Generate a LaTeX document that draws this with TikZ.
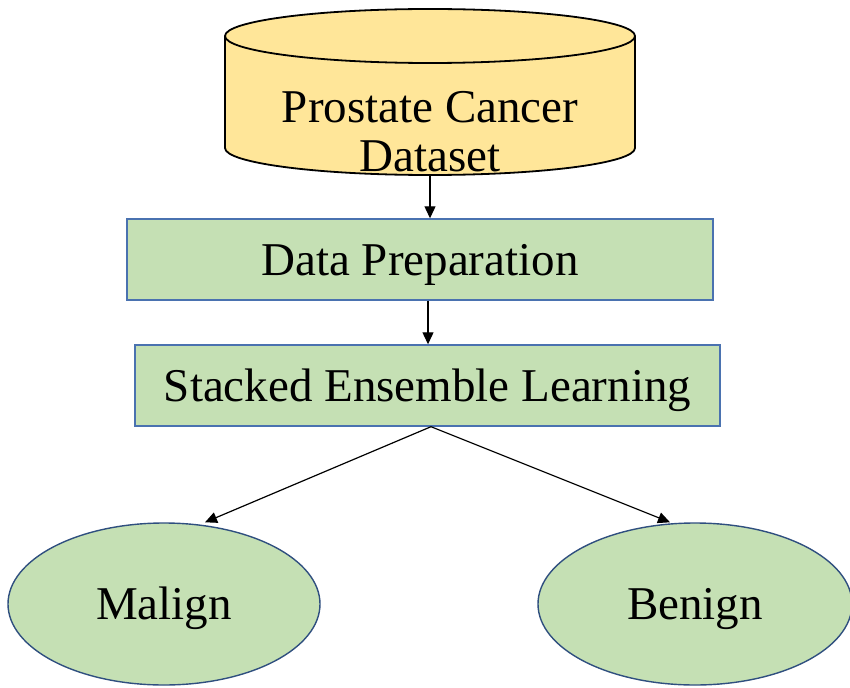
\documentclass[tikz,border=0pt]{standalone}
\usepackage{fontspec}
\setmainfont{Liberation Serif}
\usetikzlibrary{arrows.meta,shapes.geometric}
\definecolor{cylfill}{HTML}{FFE699}
\definecolor{boxfill}{HTML}{C5E0B4}
\definecolor{boxline}{HTML}{4A72B0}
\definecolor{ellline}{HTML}{2F4F7F}
\tikzset{
  txt/.style={font=\fontsize{47}{49}\selectfont},
  stepbox/.style={draw=boxline, fill=boxfill, line width=1.4pt, txt, inner sep=0pt, text height=37pt, text depth=6pt},
  classell/.style={ellipse, draw=ellline, fill=boxfill, line width=1.4pt, txt, inner sep=0pt, text height=37pt, text depth=6pt},
  conn/.style={line width=1.2pt, -{Triangle[length=12pt,width=11pt]}}
}
\begin{document}
\begin{tikzpicture}[x=1pt,y=-1pt]
\useasboundingbox (0,0) rectangle (850,687);
% cylinder
\draw[fill=cylfill, line width=1.8pt]
  (225,36) -- (225,148) arc[start angle=180,end angle=0,x radius=205,y radius=27]
  -- (635,36) arc[start angle=0,end angle=-180,x radius=205,y radius=27] -- cycle;
\draw[line width=1.8pt] (225,36) arc[start angle=180,end angle=0,x radius=205,y radius=27];
\node[minimum width=410pt, minimum height=168pt, inner sep=0pt] (ds) at (430,92) {};
\node[txt, align=center] (dsl) at (430,132) {Prostate Cancer\\Dataset};
% boxes
\node[stepbox, minimum width=586pt, minimum height=81pt] (prep) at (420,259.5) {Data Preparation};
\node[stepbox, minimum width=585pt, minimum height=81pt] (sel) at (427.5,385.5) {Stacked Ensemble Learning};
% ellipses
\node[classell, minimum width=312pt, minimum height=162pt] (mal) at (164,604) {Malign};
\node[classell, minimum width=314pt, minimum height=162pt] (ben) at (695,604) {Benign};
% connectors
\draw[conn] (ds.south -| 430,0) -- (prep.north -| 430,0);
\draw[conn] (prep.south -| 428,0) -- (sel.north -| 428,0);
\coordinate (split) at (sel.south -| 431,0);
\draw[conn] (split) -- (mal.north -| 205,0);
\draw[conn] (split) -- (ben.north -| 670,0);
\end{tikzpicture}
\end{document}
